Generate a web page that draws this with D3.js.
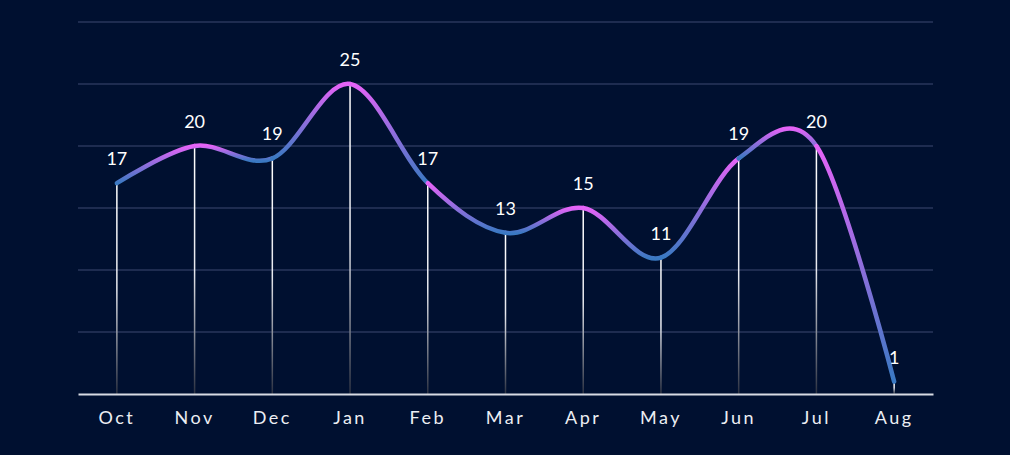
<!DOCTYPE html>
<html>
<head>
<meta charset="utf-8">
<script src="https://cdn.jsdelivr.net/npm/d3@7"></script>
<style>
  html, body { margin: 0; padding: 0; background: #001030; }
  svg { display: block; }
</style>
</head>
<body>
<svg id="chart" width="1010" height="455"></svg>
<script>
var months = ['Oct', 'Nov', 'Dec', 'Jan', 'Feb', 'Mar', 'Apr', 'May', 'Jun', 'Jul', 'Aug'];
var counts = [17, 20, 19, 25, 17, 13, 15, 11, 19, 20, 1];
var gridValues = [5, 10, 15, 20, 25, 30];

var svg = d3.select('#chart');
var width = 1010, height = 455;
var plotLeft = 78, plotRight = 933, plotTop = 22, plotBottom = 394;

svg.append('rect')
  .attr('width', width)
  .attr('height', height)
  .attr('fill', '#001030');

var x = d3.scaleBand().domain(months).range([plotLeft, plotRight]);
var y = d3.scaleLinear().domain([0, 30]).range([plotBottom, plotTop]);

var data = months.map(function(m, i) {
  return { month: m, value: counts[i] };
});

var defs = svg.append('defs');

// each curve piece: pink at its top, blue at its bottom
var lineGrad = defs.append('linearGradient')
  .attr('id', 'lineGrad')
  .attr('x1', 0).attr('y1', 0).attr('x2', 0).attr('y2', 1);
lineGrad.append('stop').attr('offset', '0%').attr('stop-color', '#e563f7');
lineGrad.append('stop').attr('offset', '100%').attr('stop-color', '#3a79c2');

var dropGrad = defs.append('linearGradient')
  .attr('id', 'dropGrad')
  .attr('x1', 0).attr('y1', 0).attr('x2', 0).attr('y2', 1);
dropGrad.append('stop').attr('offset', '0%').attr('stop-color', '#ffffff');
dropGrad.append('stop').attr('offset', '50%').attr('stop-color', '#e6e8ee');
dropGrad.append('stop').attr('offset', '100%').attr('stop-color', '#2a3040');

// grid
svg.append('g')
  .selectAll('line')
  .data(gridValues)
  .enter()
  .append('line')
  .attr('x1', plotLeft)
  .attr('x2', plotRight)
  .attr('y1', function(d) { return y(d); })
  .attr('y2', function(d) { return y(d); })
  .attr('stroke', '#1e2c50')
  .attr('stroke-width', 2);

// drop lines
var cx = function(d) { return x(d.month) + x.bandwidth() / 2; };

svg.append('g')
  .selectAll('rect')
  .data(data)
  .enter()
  .append('rect')
  .attr('x', function(d) { return cx(d) - 0.75; })
  .attr('y', function(d) { return y(d.value); })
  .attr('width', 1.5)
  .attr('height', function(d) { return plotBottom - y(d.value); })
  .attr('fill', 'url(#dropGrad)');

// x axis
var xAxis = svg.append('g')
  .attr('transform', 'translate(0,' + plotBottom + ')')
  .call(d3.axisBottom(x).tickSize(0).tickPadding(17));
xAxis.select('.domain')
  .attr('stroke', '#d8dbe3')
  .attr('stroke-width', 2);
xAxis.selectAll('text')
  .attr('fill', '#eceef3')
  .style('font-family', 'Lato, sans-serif')
  .style('font-size', '18px')
  .style('letter-spacing', '2.5px');

// curve, split into one piece per interval
var line = d3.line()
  .x(cx)
  .y(function(d) { return y(d.value); })
  .curve(d3.curveCardinal.tension(0));

var parts = line(data).split('C');
var start = parts[0].slice(1);
var pieces = [];
for (var i = 1; i < parts.length; i++) {
  var nums = parts[i].split(/[ ,]/).filter(function(s) { return s.length; });
  pieces.push('M' + start + 'C' + parts[i]);
  start = nums[nums.length - 2] + ',' + nums[nums.length - 1];
}

svg.append('g')
  .selectAll('path')
  .data(pieces)
  .enter()
  .append('path')
  .attr('d', function(d) { return d; })
  .attr('fill', 'none')
  .attr('stroke', 'url(#lineGrad)')
  .attr('stroke-width', 4.5)
  .attr('stroke-linecap', 'round');

// value labels
svg.append('g')
  .selectAll('text')
  .data(data)
  .enter()
  .append('text')
  .attr('x', cx)
  .attr('y', function(d) { return y(d.value) - 18; })
  .attr('text-anchor', 'middle')
  .attr('fill', '#ffffff')
  .style('font-family', 'Lato, sans-serif')
  .style('font-size', '18px')
  .text(function(d) { return d.value; });
</script>
</body>
</html>
